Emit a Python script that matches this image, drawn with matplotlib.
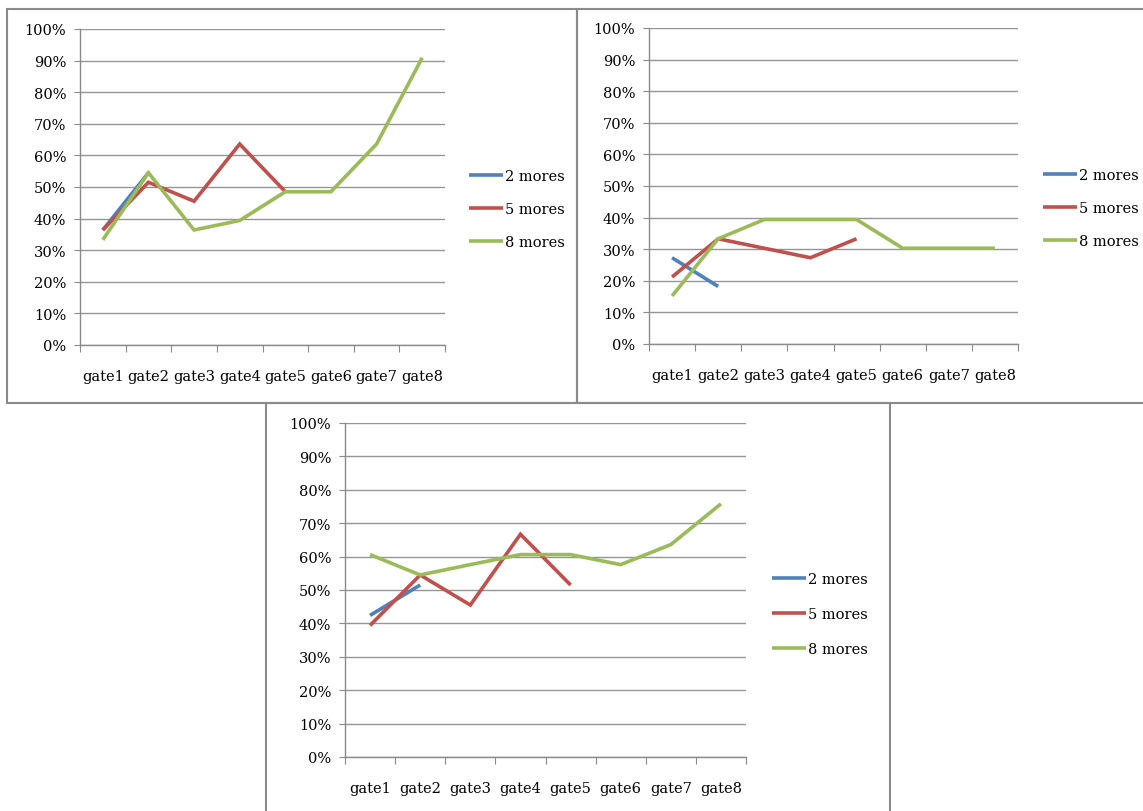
import matplotlib
matplotlib.use('Agg')
import matplotlib.pyplot as plt
from matplotlib.patches import Rectangle
from matplotlib.ticker import FixedLocator, PercentFormatter
import numpy as np

# data (fractions in %)
gates = ['gate1', 'gate2', 'gate3', 'gate4', 'gate5', 'gate6', 'gate7', 'gate8']
series_names = ['2 mores', '5 mores', '8 mores']

# top left chart
tl_2 = [36.4, 54.5]
tl_5 = [36.4, 51.5, 45.5, 63.6, 48.5]
tl_8 = [33.3, 54.5, 36.4, 39.4, 48.5, 48.5, 63.6, 90.9]

# top right chart
tr_2 = [27.3, 18.2]
tr_5 = [21.2, 33.3, 30.3, 27.3, 33.3]
tr_8 = [15.2, 33.3, 39.4, 39.4, 39.4, 30.3, 30.3, 30.3]

# bottom chart
bt_2 = [42.4, 51.5]
bt_5 = [39.4, 54.5, 45.5, 66.7, 51.5]
bt_8 = [60.6, 54.5, 57.6, 60.6, 60.6, 57.6, 63.6, 75.8]

colors = ['#4F81BD', '#C0504D', '#9BBB59']

W, H = 1143, 812
plt.rcParams['font.family'] = ['DejaVu Serif']
fig = plt.figure(figsize=(W / 100, H / 100), dpi=100)
fig.patch.set_facecolor('white')

def px_rect(l, t, r, b):
    return [l / W, 1 - b / H, (r - l) / W, (b - t) / H]

def draw_chart(rect, data, leg_anchor, leg_space):
    ax = fig.add_axes(px_rect(*rect))
    for vals, col, name in zip(data, colors, series_names):
        x = np.arange(len(vals)) + 0.5
        ax.plot(x, vals, color=col, lw=2.6, label=name, solid_capstyle='butt',
                solid_joinstyle='miter')
    ax.set_xlim(0, 8)
    ax.set_ylim(0, 100)
    ax.set_yticks(np.arange(0, 101, 10))
    ax.yaxis.set_major_formatter(PercentFormatter(decimals=0))
    ax.yaxis.grid(True, color='#959595', lw=1)
    ax.set_axisbelow(True)
    ax.xaxis.set_major_locator(FixedLocator(np.arange(0, 9)))
    ax.xaxis.set_minor_locator(FixedLocator(np.arange(8) + 0.5))
    ax.set_xticklabels([])
    ax.set_xticklabels(gates, minor=True)
    ax.tick_params(axis='x', which='major', direction='out', length=5, color='#8a8a8a')
    ax.tick_params(axis='x', which='minor', length=0, pad=17, labelsize=10.5)
    ax.tick_params(axis='y', direction='out', length=4, color='#8a8a8a', pad=6, labelsize=10.5)
    for s in ['top', 'right']:
        ax.spines[s].set_visible(False)
    for s in ['left', 'bottom']:
        ax.spines[s].set_color('#8a8a8a')
        ax.spines[s].set_linewidth(1)
    ax.legend(loc='upper left', bbox_to_anchor=(leg_anchor[0] / W, 1 - leg_anchor[1] / H),
              bbox_transform=fig.transFigure, frameon=False, fontsize=10.5,
              handlelength=2.3, handletextpad=0.15, labelspacing=leg_space,
              borderpad=0, borderaxespad=0)
    return ax

draw_chart((80, 30, 445, 346), [tl_2, tl_5, tl_8], (469, 170), 1.3)
draw_chart((649, 29, 1018, 345), [tr_2, tr_5, tr_8], (1043, 169), 1.3)
draw_chart((345, 424, 746, 758), [bt_2, bt_5, bt_8], (772, 573), 1.45)

# frames around each chart
for l, t, r, b in [(7, 10, 577, 404), (577, 10, 1150, 404), (266, 404, 890, 820)]:
    fig.add_artist(Rectangle((l / W, 1 - b / H), (r - l) / W, (b - t) / H,
                             transform=fig.transFigure, fill=False,
                             edgecolor='#8a8a8a', lw=1.5))

fig.savefig('out.png', dpi=100)
